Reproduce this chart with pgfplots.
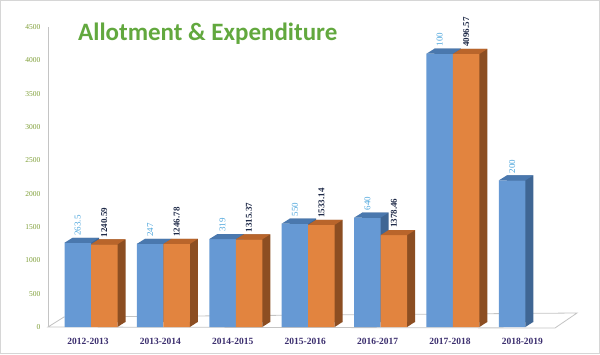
\documentclass[border=0pt]{standalone}
\usepackage{pgfplots}
\pgfplotsset{compat=1.18}
\usepackage{fontspec}
\setmainfont{Liberation Serif}
\newfontfamily\titlefont{Carlito}
\definecolor{bfront}{HTML}{6699D4}
\definecolor{btop}{HTML}{4A78AE}
\definecolor{bside}{HTML}{3F6694}
\definecolor{ofront}{HTML}{E2843F}
\definecolor{otop}{HTML}{B9652B}
\definecolor{oside}{HTML}{8C4E22}
\definecolor{titlegreen}{HTML}{62A83E}
\definecolor{ygreen}{HTML}{7E9E36}
\definecolor{catcol}{HTML}{3B2E6E}
\definecolor{blabel}{HTML}{4EA6DC}
\definecolor{olabel}{HTML}{1F2A48}
\definecolor{floorgray}{HTML}{C4C4C4}
\pgfdeclareplotmark{btopmark}{%
  \pgfpathmoveto{\pgfqpoint{-26.5pt}{0pt}}%
  \pgfpathlineto{\pgfqpoint{0pt}{0pt}}%
  \pgfpathlineto{\pgfqpoint{8pt}{5pt}}%
  \pgfpathlineto{\pgfqpoint{-18.5pt}{5pt}}%
  \pgfpathclose\pgfusepathqfill}
\pgfdeclareplotmark{otopmark}{%
  \pgfpathmoveto{\pgfqpoint{0pt}{0pt}}%
  \pgfpathlineto{\pgfqpoint{26.5pt}{0pt}}%
  \pgfpathlineto{\pgfqpoint{34.5pt}{5pt}}%
  \pgfpathlineto{\pgfqpoint{8pt}{5pt}}%
  \pgfpathclose\pgfusepathqfill}
\pgfdeclareplotmark{bbotmark}{%
  \pgfpathmoveto{\pgfqpoint{0pt}{0pt}}%
  \pgfpathlineto{\pgfqpoint{8pt}{5.2pt}}%
  \pgfpathlineto{\pgfqpoint{0pt}{5.2pt}}%
  \pgfpathclose\pgfusepathqfill}
\pgfdeclareplotmark{obotmark}{%
  \pgfpathmoveto{\pgfqpoint{26.5pt}{0pt}}%
  \pgfpathlineto{\pgfqpoint{34.5pt}{5.2pt}}%
  \pgfpathlineto{\pgfqpoint{26.5pt}{5.2pt}}%
  \pgfpathclose\pgfusepathqfill}
\begin{document}
\begin{tikzpicture}
\path[use as bounding box] (0,0) rectangle (600pt,354pt);
\draw[color=floorgray!70, line width=0.8pt] (0.5pt,0.5pt) rectangle (599.5pt,353.5pt);
\begin{axis}[
  at={(48pt,27pt)}, anchor=south west,
  scale only axis, width=529pt, height=300pt,
  xmin=-0.594, xmax=6.713, ymin=0, ymax=4500,
  clip=false,
  axis lines*=left, axis line style={draw=none},
  tick style={draw=none},
  xtick={0,...,6},
  xticklabels={2012-2013,2013-2014,2014-2015,2015-2016,2016-2017,2017-2018,2018-2019},
  xticklabel style={font=\bfseries\fontsize{9.5}{10}\selectfont, color=catcol, yshift=-8pt, xshift=-3pt},
  ytick={0,500,...,4500},
  yticklabel style={font=\fontsize{7.5}{8}\selectfont, color=ygreen, xshift=-4pt},
  /pgf/number format/assume math mode=true,
  /pgf/number format/1000 sep={},
]
% floor
\draw[floorgray, line width=0.8pt, fill=white] (axis cs:-0.594,0) -- (axis cs:6.409,-15) -- (axis cs:6.713,210) -- (axis cs:-0.373,150) -- cycle;
\draw[floorgray, line width=0.8pt] (axis cs:-0.594,0) -- (axis cs:-0.594,4500);
% blue series
\addplot[ybar, bar width=26.5pt, bar shift=-5.25pt, yshift=5pt, fill=bside, draw=none] coordinates {(0,1263.5) (1,1247) (2,1319) (3,1550) (4,1640) (5,4100) (6,2200)};
\addplot[only marks, mark=bbotmark, color=bside] coordinates {(6,0)};
\addplot[ybar, bar width=26.5pt, bar shift=-13.25pt, fill=bfront, draw=none,
  nodes near coords, point meta=explicit symbolic,
  every node near coord/.style={font=\fontsize{9}{10}\selectfont, color=blabel, xshift=-13.25pt, yshift=6pt, rotate=90, anchor=west, inner sep=1pt}]
  coordinates {(0,1263.5) [263.5] (1,1247) [247] (2,1319) [319] (3,1550) [550] (4,1640) [640] (5,4100) [100] (6,2200) [200]};
\addplot[only marks, mark=btopmark, color=btop] coordinates {(0,1263.5) (1,1247) (2,1319) (3,1550) (4,1640) (5,4100) (6,2200)};
% orange series
\addplot[ybar, bar width=26.5pt, bar shift=21.25pt, yshift=5pt, fill=oside, draw=none] coordinates {(0,1240.59) (1,1246.78) (2,1315.37) (3,1533.14) (4,1378.46) (5,4096.57)};
\addplot[only marks, mark=obotmark, color=oside] coordinates {(0,0) (1,0) (2,0) (3,0) (4,0) (5,0)};
\addplot[ybar, bar width=26.5pt, bar shift=13.25pt, fill=ofront, draw=none,
  nodes near coords, point meta=explicit symbolic,
  every node near coord/.style={font=\bfseries\fontsize{9}{10}\selectfont, color=olabel, xshift=13.25pt, yshift=6pt, rotate=90, anchor=west, inner sep=1pt}]
  coordinates {(0,1240.59) [1240.59] (1,1246.78) [1246.78] (2,1315.37) [1315.37] (3,1533.14) [1533.14] (4,1378.46) [1378.46] (5,4096.57) [4096.57]};
\addplot[only marks, mark=otopmark, color=otop] coordinates {(0,1240.59) (1,1246.78) (2,1315.37) (3,1533.14) (4,1378.46) (5,4096.57)};
\end{axis}
\node[anchor=base west, inner sep=0pt, font=\titlefont\bfseries\fontsize{25}{30}\selectfont, text=titlegreen] at (78pt,313pt) {Allotment \& Expenditure};
\end{tikzpicture}
\end{document}
